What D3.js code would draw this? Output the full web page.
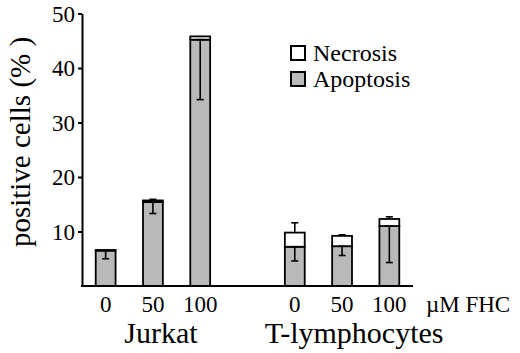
<!DOCTYPE html>
<html><head><meta charset="utf-8">
<script src="https://cdn.jsdelivr.net/npm/d3@7"></script>
<style>body{margin:0;background:#fff}svg{display:block}</style>
</head><body><svg id="c" width="520" height="353"></svg>
<script>
// slots (a spacer slot separates the two cell groups)
const slots = ["J-0","J-50","J-100","gap","T-0","T-50","T-100"];
const barSlots = ["J-0","J-50","J-100","T-0","T-50","T-100"];
const doseLabels = ["0","50","100","0","50","100"];
const groups = ["Jurkat","T-lymphocytes"];
const apoptosis = [6.5, 15.4, 45.2, 7.2, 7.3, 11.0];
const necrosis = [0.1, 0.3, 0.6, 2.6, 1.9, 1.3];
const apoptosisErr = [1.5, 2.1, 11.0, 2.6, 1.7, 6.7];
const necrosisErr = [0.0, 0.2, 0.0, 1.8, 0.2, 0.4];
const yTicks = [10, 20, 30, 40, 50];
const legendLabels = ["Necrosis", "Apoptosis"];

const FONT = "'Liberation Serif', Tinos, 'Times New Roman', 'DejaVu Serif', serif";
const svg = d3.select("#c");
const grey = "#b9b9b9";
const x = d3.scaleBand().domain(slots).range([82, 413]).paddingInner(0.58).paddingOuter(0.29);
const y = d3.scaleLinear().domain([0, 50]).range([286, 13.5]);
const bw = x.bandwidth();
const cx = s => x(s) + bw / 2;

// bars
const data = barSlots.map((s, i) => ({s, a: apoptosis[i], n: necrosis[i], ae: apoptosisErr[i], ne: necrosisErr[i], lab: doseLabels[i]}));
const g = svg.append("g");
g.selectAll("rect.apo").data(data).join("rect").attr("class","apo")
  .attr("x", d => x(d.s)).attr("width", bw)
  .attr("y", d => y(d.a)).attr("height", d => y(0) - y(d.a))
  .attr("fill", grey).attr("stroke", "#000").attr("stroke-width", 1.8);
g.selectAll("rect.nec").data(data).join("rect").attr("class","nec")
  .attr("x", d => x(d.s)).attr("width", bw)
  .attr("y", d => y(d.a + d.n)).attr("height", d => y(d.a) - y(d.a + d.n))
  .attr("fill", "#fff").attr("stroke", "#000").attr("stroke-width", 1.8);

// error bars
const cap = 3.5;
const eb = svg.append("g").attr("stroke", "#000").attr("stroke-width", 1.6);
data.forEach(d => {
  const c = cx(d.s);
  eb.append("line").attr("x1", c).attr("x2", c).attr("y1", y(d.a)).attr("y2", y(d.a - d.ae));
  eb.append("line").attr("x1", c - cap).attr("x2", c + cap).attr("y1", y(d.a)).attr("y2", y(d.a));
  eb.append("line").attr("x1", c - cap).attr("x2", c + cap).attr("y1", y(d.a - d.ae)).attr("y2", y(d.a - d.ae));
  const t = d.a + d.n;
  if (d.ne > 0) {
    eb.append("line").attr("x1", c).attr("x2", c).attr("y1", y(t)).attr("y2", y(t + d.ne));
    eb.append("line").attr("x1", c - cap).attr("x2", c + cap).attr("y1", y(t + d.ne)).attr("y2", y(t + d.ne));
  }
});

// y axis
const ya = svg.append("g").attr("transform", "translate(82,0)")
  .call(d3.axisLeft(y).tickValues(yTicks).tickSize(4).tickSizeOuter(0).tickPadding(3));
ya.attr("font-family", null).attr("font-size", null);
ya.select(".domain").attr("stroke-width", 2);
ya.selectAll(".tick line").attr("stroke-width", 2);
ya.selectAll(".tick text").style("font-family", FONT).style("font-size", "23px").attr("dy", "0.34em");

// x baseline
svg.append("line").attr("x1", 81).attr("x2", 413).attr("y1", y(0)).attr("y2", y(0)).attr("stroke", "#000").attr("stroke-width", 2);

// dose labels
svg.selectAll("text.dose").data(data).join("text").attr("class","dose")
  .attr("x", d => cx(d.s)).attr("y", 312).attr("text-anchor", "middle").style("font-size", "23px").text(d => d.lab);
svg.append("text").attr("x", 426).attr("y", 312).style("font-size", "23px").text("\u00b5M FHC");

// group labels
svg.append("text").attr("x", cx("J-50") + 8).attr("y", 343).attr("text-anchor", "middle").style("font-size", "30px").text(groups[0]);
svg.append("text").attr("x", cx("T-50") + 12).attr("y", 343).attr("text-anchor", "middle").style("font-size", "30px").text(groups[1]);

// y title
svg.append("text").attr("transform", "translate(30,142) rotate(-90)").attr("text-anchor", "middle")
  .style("font-size", "29px").text("positive cells (% )");

// legend
const lg = svg.append("g");
legendLabels.forEach((l, i) => {
  const yy = 46 + i * 26;
  lg.append("rect").attr("x", 291).attr("y", yy).attr("width", 14).attr("height", 14)
    .attr("fill", i === 0 ? "#fff" : grey).attr("stroke", "#000").attr("stroke-width", 2);
  lg.append("text").attr("x", 313).attr("y", yy + 15).style("font-size", "24px").text(l);
});

svg.selectAll("text").style("font-family", FONT).style("fill", "#000");
</script></body></html>
